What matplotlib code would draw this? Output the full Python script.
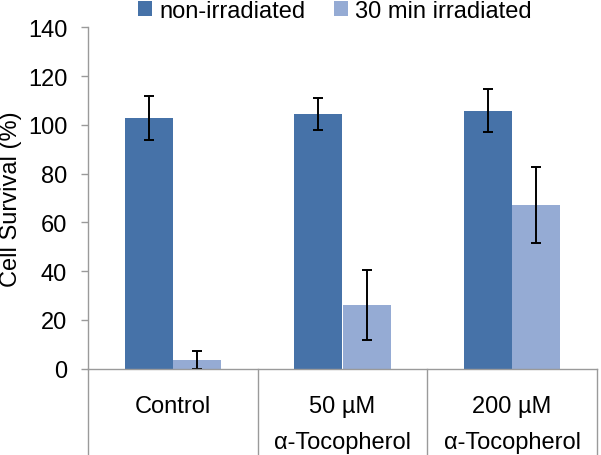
import matplotlib.pyplot as plt
import numpy as np

plt.rcParams['font.family'] = ['Liberation Sans', 'DejaVu Sans']

groups = ["Control", "50 µM\nα-Tocopherol", "200 µM\nα-Tocopherol"]
group_top = ["Control", "50 µM", "200 µM"]
group_bottom = ["", "α-Tocopherol", "α-Tocopherol"]
series = ["non-irradiated", "30 min irradiated"]
non_irr = [102.7, 104.4, 105.8]
non_irr_err = [9.0, 6.5, 8.7]
irr = [3.5, 26.0, 67.0]
irr_err = [3.8, 14.5, 15.5]
yticks = [0, 20, 40, 60, 80, 100, 120, 140]

dark = "#4672A8"
light = "#95ABD4"
grey = "#9A9A9A"
fs = 17

fig = plt.figure(figsize=[6.01, 4.56], dpi=100)
W, H = 601.0, 456.0
ax = fig.add_axes([88 / W, (H - 369.5) / H, (597 - 88) / W, (369.5 - 28.3) / H])

x = np.arange(len(groups)) + 0.5
w = 0.284
ekw = dict(ecolor="black", elinewidth=1.4, capsize=3.5, capthick=1.4)
b1 = ax.bar(x - w / 2, non_irr, w, color=dark, yerr=non_irr_err, error_kw=ekw, label=series[0])
b2 = ax.bar(x + w / 2, irr, w, color=light, yerr=irr_err, error_kw=ekw, label=series[1])

ax.set_xlim(0, 3)
ax.set_ylim(0, 140)
ax.set_yticks(yticks)
ax.set_xticks([])
ax.tick_params(axis='y', direction="out", length=5, width=1.0, color=grey, pad=10, labelsize=fs)

for s in ["top", "right"]:
    ax.spines[s].set_visible(False)
for s in ["left", "bottom"]:
    ax.spines[s].set_color(grey)
    ax.spines[s].set_linewidth(1.0)

# category boxes below the axis (Excel style)
for xs in [0, 1, 2, 3]:
    ax.plot([xs, xs], [0, -0.3], color=grey, lw=1.0, clip_on=False,
            transform=ax.get_xaxis_transform())

for i in range(len(groups)):
    fx = (88 + (597 - 88) * x[i] / 3) / W
    fig.text(fx, 1 - 407 / H, group_top[i], ha="center", va="center", fontsize=fs)
    if group_bottom[i]:
        fig.text(fx, 1 - 443 / H, group_bottom[i], ha="center", va="center", fontsize=fs)

ax.set_ylabel("Cell Survival (%)", fontsize=fs)
ax.yaxis.set_label_coords(-0.13, 0.5)

fig.legend(handles=[b1, b2], labels=series, loc="upper center", bbox_to_anchor=(0.557, 1.045),
           ncol=2, frameon=False, fontsize=fs, handlelength=0.6, handleheight=0.6,
           handletextpad=0.3, columnspacing=1.2)

plt.savefig("out.png", dpi=100)
